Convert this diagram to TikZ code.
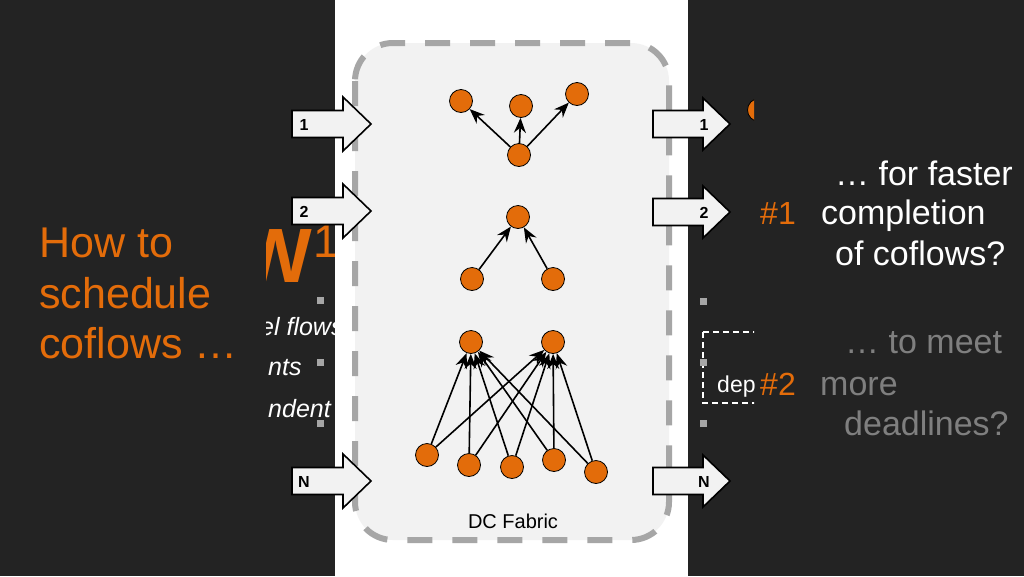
\documentclass[tikz,border=0pt]{standalone}
\usepackage{fontspec}
\setmainfont{Liberation Sans}
\usepackage{tikz}
\usetikzlibrary{arrows.meta}
\definecolor{slidebg}{HTML}{232323}
\definecolor{coflow}{HTML}{E36C0A}
\definecolor{fabric}{HTML}{F2F2F2}
\definecolor{dashgray}{HTML}{A6A6A6}
\definecolor{dimtext}{HTML}{7F7F7F}

\begin{document}
\begin{tikzpicture}[x=1pt,y=-1pt,
  flow/.style={circle,draw=black,fill=coflow,minimum size=23pt,inner sep=0pt,line width=0.8pt},
  port/.style={draw=black,fill=fabric,line width=1.6pt},
  portlabel/.style={font=\fontsize{16}{16}\selectfont\bfseries,inner sep=0pt},
  edgeline/.style={-{Stealth[length=15pt,width=12pt,inset=5pt]},line width=1.6pt},
  slidetext/.style={anchor=base west,inner sep=0pt,font=\fontsize{34}{34}\selectfont}]

    % slide background
    \fill[slidebg] (0,0) rectangle (1024,576);

    % cut-off slide behind, left side
    \begin{scope}
      \clip (266,0) rectangle (335,576);
      \node(bigW) [anchor=base west,inner sep=0pt,text=coflow,font=\fontsize{77}{77}\selectfont\bfseries] at (239,282) {W};
      \node(supOne) [anchor=base west,inner sep=0pt,text=coflow,font=\fontsize{46}{46}\selectfont] at (313,257) {1};
      \node(cutA) [anchor=base west,inner sep=0pt,text=white,font=\fontsize{25}{25}\selectfont\itshape] at (260,335) {el flows};
      \node(cutB) [anchor=base west,inner sep=0pt,text=white,font=\fontsize{25}{25}\selectfont\itshape] at (268,375) {nts};
      \node(cutC) [anchor=base west,inner sep=0pt,text=white,font=\fontsize{25}{25}\selectfont\itshape] at (268,417) {ndent};
      \foreach \y in {300,362,423}
      {
        \fill[dashgray] (316.5,\y-3.5) rectangle (323.5,\y+3.5);
      }
    \end{scope}

    % question on the left
    \node(askA) [slidetext,text=coflow,font=\fontsize{43}{43}\selectfont] at (39,257) {How to};
    \node(askB) [slidetext,text=coflow,font=\fontsize{43}{43}\selectfont] at (39,308) {schedule};
    \node(askC) [slidetext,text=coflow,font=\fontsize{43}{43}\selectfont] at (39,358) {coflows …};

    % white strip and fabric
    \fill[white] (335,0) rectangle (688,576);
    \draw[dashgray,fill=fabric,line width=6pt,dash pattern=on 25pt off 20pt,rounded corners=38pt]
      (355,43) rectangle (669,540);
    \node(fabricLabel) [font=\fontsize{20}{20}\selectfont,anchor=base,inner sep=0pt] at (513,528) {DC Fabric};

    % one-to-many
    \node(leafL) [flow] at (461,101) {};
    \node(leafM) [flow] at (521,106) {};
    \node(leafR) [flow] at (577,94) {};
    \node(rootA) [flow] at (519,155) {};
    \foreach \leaf in {leafL,leafM,leafR}
    {
      \draw[edgeline] (rootA) -- (\leaf);
    }

    % many-to-one
    \node(sink) [flow] at (518,217) {};
    \node(feedL) [flow] at (472,279) {};
    \node(feedR) [flow] at (553,279) {};
    \foreach \feed in {feedL,feedR}
    {
      \draw[edgeline] (\feed) -- (sink);
    }

    % many-to-many
    \node(dst1) [flow] at (471,342) {};
    \node(dst2) [flow] at (553,342) {};
    \node(src1) [flow] at (427,455) {};
    \node(src2) [flow] at (469,465) {};
    \node(src3) [flow] at (512,467) {};
    \node(src4) [flow] at (554,460) {};
    \node(src5) [flow] at (596,472) {};
    \foreach \s in {1,...,5}
    {
      \foreach \t in {1,2}
      {
        \draw[edgeline] (src\s) -- (dst\t);
      }
    }

    % ingress ports
    \foreach \y / \t in {124 / 1, 211 / 2, 481 / N}
    {
      \begin{scope}[shift={(292,\y)}]
        \draw[port] (0,-13.5) -- (51,-13.5) -- (51,-27) -- (79,0) -- (51,27) -- (51,13.5) -- (0,13.5) -- cycle;
        \node(inPort\t) [portlabel] at (12,1) {\t};
      \end{scope}
    }

    % egress ports
    \foreach \y / \t in {124 / 1, 212 / 2, 481 / N}
    {
      \begin{scope}[shift={(653,\y)}]
        \draw[port] (0,-13.5) -- (50,-13.5) -- (50,-26) -- (77,0) -- (50,26) -- (50,13.5) -- (0,13.5) -- cycle;
        \node(outPort\t) [portlabel] at (51,1) {\t};
      \end{scope}
    }

    % cut-off slide behind, right side
    \begin{scope}
      \clip (688,0) rectangle (754,576);
      \node(cutFlow) [flow] at (759,110) {};
      \draw[white,line width=1.3pt,dash pattern=on 6pt off 4pt] (703,332) rectangle (790,403);
      \node(cutDep) [anchor=base west,inner sep=0pt,text=white,font=\fontsize{23}{23}\selectfont] at (717,392) {dep};
      \foreach \y in {301,362,423}
      {
        \fill[dashgray] (699.5,\y-3.5) rectangle (706.5,\y+3.5);
      }
    \end{scope}

    % goals on the right
    \node(goalOne) [slidetext,text=coflow,font=\fontsize{32}{32}\selectfont] at (760,224) {\#1};
    \node(fastA) [slidetext,text=white] at (835,185) {… for faster};
    \node(fastB) [slidetext,text=white] at (821,224) {completion};
    \node(fastC) [slidetext,text=white] at (835,265) {of coflows?};
    \node(goalTwo) [slidetext,text=coflow,font=\fontsize{32}{32}\selectfont] at (760,395) {\#2};
    \node(meetA) [slidetext,text=dimtext] at (845,353) {… to meet};
    \node(meetB) [slidetext,text=dimtext] at (820,395) {more};
    \node(meetC) [slidetext,text=dimtext] at (844,435) {deadlines?};
  \end{tikzpicture}
\end{document}
